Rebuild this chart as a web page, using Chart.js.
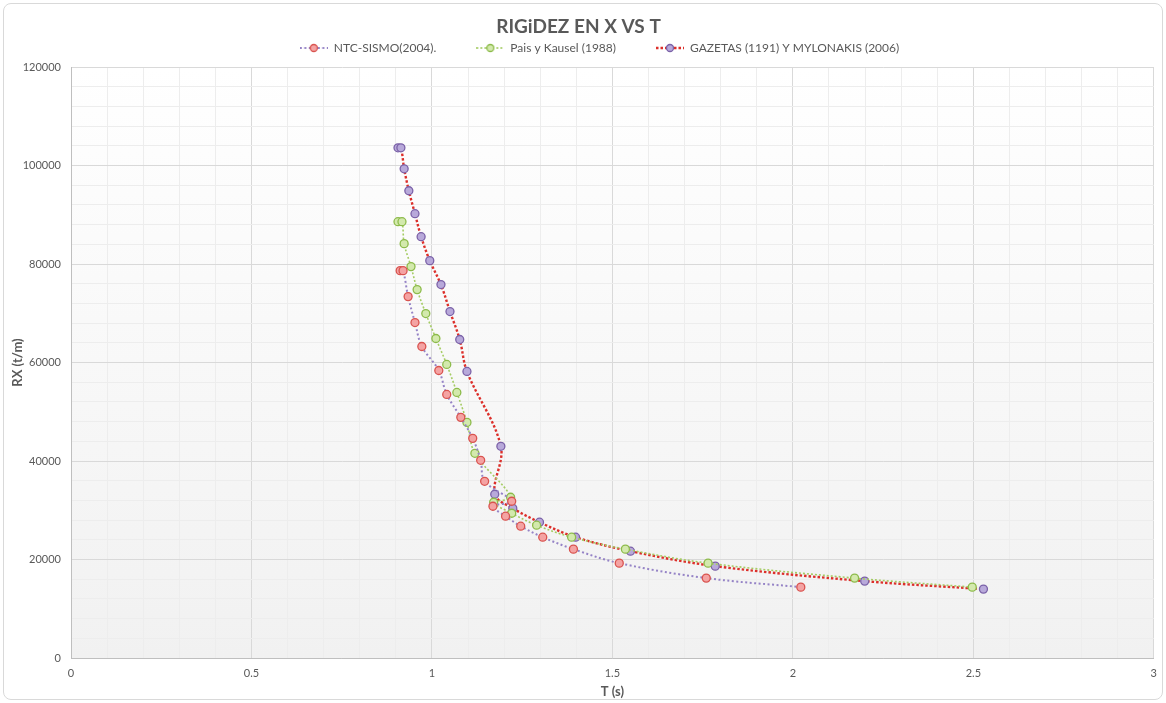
<!DOCTYPE html>
<html>
<head>
<meta charset="utf-8">
<script src="https://cdn.jsdelivr.net/npm/chart.js@4.4.1/dist/chart.umd.min.js"></script>
<style>
  html, body { margin: 0; padding: 0; background: #fff; }
  #wrap { position: relative; width: 1166px; height: 703px; }
  #frame { position: absolute; left: 3px; top: 3px; width: 1158px; height: 695px;
           border: 1px solid #d9d9d9; border-radius: 8px; pointer-events: none; }
</style>
</head>
<body>
<div id="wrap">
  <canvas id="rigidez" width="1166" height="703"></canvas>
  <div id="frame"></div>
</div>
<script>
// T (s) and RX (t/m)
const ntcT  = [0.912, 0.920, 0.934, 0.953, 0.972, 1.019, 1.041, 1.080, 1.113, 1.135,
               1.146, 1.221, 1.169, 1.204, 1.246, 1.307, 1.392, 1.519, 1.760, 2.022];
const ntcRX = [78650, 78650, 73380, 68110, 63250, 58380, 53520, 48860, 44600, 40140,
               35880, 31830, 30810, 28790, 26760, 24530, 22100, 19260, 16220, 14390];

const paisT  = [0.906, 0.917, 0.923, 0.942, 0.959, 0.983, 1.011, 1.041, 1.069, 1.097,
                1.119, 1.218, 1.171, 1.221, 1.290, 1.387, 1.536, 1.765, 2.171, 2.497];
const paisRX = [88590, 88590, 84130, 79470, 74800, 69940, 64870, 59600, 53920, 47840,
                41560, 32640, 31620, 29390, 26960, 24530, 22100, 19260, 16220, 14390];

const gazT  = [0.906, 0.914, 0.923, 0.936, 0.953, 0.970, 0.994, 1.025, 1.050, 1.077,
               1.097, 1.191, 1.174, 1.224, 1.298, 1.398, 1.550, 1.785, 2.199, 2.528];
const gazRX = [103590, 103590, 99330, 94870, 90210, 85550, 80680, 75820, 70340, 64670,
               58180, 42980, 33250, 30410, 27570, 24530, 21690, 18650, 15610, 13990];

const seriesNames = ['NTC-SISMO(2004).', 'Pais y Kausel (1988)', 'GAZETAS (1191) Y MYLONAKIS (2006)'];
const xTickLabels = [0, 0.5, 1, 1.5, 2, 2.5, 3];
const yTickLabels = [0, 20000, 40000, 60000, 80000, 100000, 120000];

const FONT = 'Lato, "Liberation Sans", sans-serif';
const GREY = '#595959';

function toPoints(xs, ys) {
    return xs.map((x, i) => ({ x: x, y: ys[i] }));
}

// small legend picture: dotted line with a marker in the middle
function legendIcon(lineColor, dash, lw, fill, stroke) {
    const c = document.createElement('canvas');
    c.width = 28; c.height = 10;
    const g = c.getContext('2d');
    g.strokeStyle = lineColor;
    g.lineWidth = lw;
    g.setLineDash(dash);
    g.beginPath(); g.moveTo(0, 5); g.lineTo(28, 5); g.stroke();
    g.setLineDash([]);
    g.beginPath(); g.arc(14, 5, 3.5, 0, Math.PI * 2);
    g.fillStyle = fill; g.fill();
    g.lineWidth = 1.3; g.strokeStyle = stroke; g.stroke();
    return c;
}

const styles = [
    { line: '#9583c6', dash: [2, 2.5], lw: 2,   fill: '#f4a3a3', stroke: '#d9534f' },
    { line: '#a5cc64', dash: [2, 2],   lw: 1.6, fill: '#d3e9ad', stroke: '#8dbb4b' },
    { line: '#dc2f2a', dash: [2.5, 2], lw: 2.4, fill: '#b8a9da', stroke: '#7b62a8' }
];
const icons = styles.map(s => legendIcon(s.line, s.dash, s.lw, s.fill, s.stroke));

const plotBackground = {
    id: 'plotBackground',
    beforeDraw(chart) {
        const a = chart.chartArea, ctx = chart.ctx;
        const grad = ctx.createLinearGradient(0, a.top, 0, a.bottom);
        grad.addColorStop(0, '#ffffff');
        grad.addColorStop(1, '#f1f1f1');
        ctx.save();
        ctx.fillStyle = grad;
        ctx.fillRect(a.left, a.top, a.right - a.left, a.bottom - a.top);
        ctx.restore();
    }
};

// title and legend sit closer together than chart.js would put them
const headerLayout = {
    id: 'headerLayout',
    afterInit(chart) {
        const t = chart.titleBlock, lg = chart.legend;
        const tUpdate = t.update;
        t.update = function (w, h, m) {
            tUpdate.call(this, w, h, m);
            this.height = 2;
            this.bottom = this.top + 2;
        };
        const lFit = lg.fit;
        lg.fit = function () { lFit.call(this); this.height += 3; };
    },
    afterLayout(chart) {
        chart.legend.left += 21;
        chart.legend.right += 21;
    }
};

const data = [toPoints(ntcT, ntcRX), toPoints(paisT, paisRX), toPoints(gazT, gazRX)];

const ctx = document.getElementById('rigidez').getContext('2d');
new Chart(ctx, {
    type: 'scatter',
    data: {
        datasets: data.map((d, i) => ({
            label: seriesNames[i],
            data: d,
            showLine: true,
            tension: 0.35,
            borderColor: styles[i].line,
            borderWidth: styles[i].lw,
            borderDash: styles[i].dash,
            pointRadius: 4,
            pointHoverRadius: 4,
            pointBorderWidth: 1.3,
            pointBackgroundColor: styles[i].fill,
            pointBorderColor: styles[i].stroke
        }))
    },
    options: {
        responsive: false,
        animation: false,
        layout: { padding: { left: 0, right: 9, top: 0, bottom: 0 } },
        plugins: {
            title: {
                display: true,
                text: 'RIGiDEZ EN X VS T',
                color: GREY,
                font: { family: FONT, size: 19, weight: 'bold' },
                padding: { top: 15, bottom: 0 }
            },
            legend: {
                position: 'top',
                labels: {
                    color: GREY,
                    font: { family: FONT, size: 12 },
                    usePointStyle: true,
                    pointStyleWidth: 28,
                    padding: 40,
                    boxHeight: 10,
                    generateLabels: chart => chart.data.datasets.map((ds, i) => ({
                        text: ds.label,
                        pointStyle: icons[i],
                        fillStyle: styles[i].fill,
                        strokeStyle: styles[i].stroke,
                        fontColor: GREY,
                        lineWidth: 0,
                        datasetIndex: i
                    }))
                }
            },
            tooltip: { enabled: false }
        },
        scales: {
            x: {
                type: 'linear',
                min: 0, max: 3,
                afterFit: s => { s.height = 45; },
                ticks: {
                    stepSize: 0.1,
                    autoSkip: false,
                    maxRotation: 0,
                    padding: 9,
                    color: GREY,
                    font: { family: FONT, size: 11 },
                    callback: v => {
                        const r = Math.round(v * 10) / 10;
                        return xTickLabels.includes(r) ? String(r) : '';
                    }
                },
                grid: {
                    drawTicks: false,
                    color: c => (Math.round(c.tick.value * 10) % 5 === 0 ? '#d9d9d9' : '#ededed')
                },
                border: { color: '#bfbfbf', width: 1 },
                title: {
                    display: true, text: 'T (s)', color: GREY,
                    font: { family: FONT, size: 13, weight: 'bold' },
                    padding: { top: 2, bottom: 3 }
                }
            },
            y: {
                type: 'linear',
                min: 0, max: 120000,
                afterFit: s => { s.width = 71; },
                ticks: {
                    stepSize: 4000,
                    autoSkip: false,
                    padding: 10,
                    color: GREY,
                    font: { family: FONT, size: 11 },
                    callback: v => (yTickLabels.includes(v) ? String(v) : '')
                },
                grid: {
                    drawTicks: false,
                    color: c => (c.tick.value % 20000 === 0 ? '#d9d9d9' : '#ededed')
                },
                border: { color: '#bfbfbf', width: 1 },
                title: {
                    display: true, text: 'RX (t/m)', color: GREY,
                    font: { family: FONT, size: 13, weight: 'bold' },
                    padding: { top: 10, bottom: 4 }
                }
            }
        }
    },
    plugins: [plotBackground, headerLayout]
});
</script>
</body>
</html>
